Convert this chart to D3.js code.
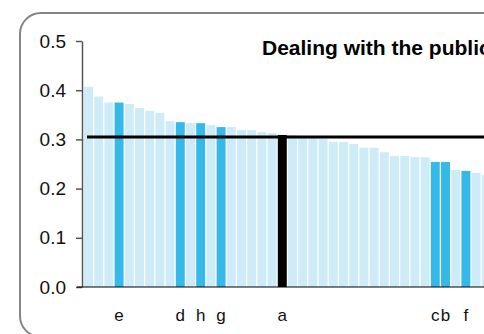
<!DOCTYPE html>
<html>
<head>
<meta charset="utf-8">
<script src="https://cdn.jsdelivr.net/npm/d3@7"></script>
<style>
    body { margin: 0; background: #ffffff; }
    svg { display: block; font-family: "Liberation Sans", Arial, sans-serif; }
</style>
</head>
<body>
<svg width="484" height="334"></svg>
<script>
// =============================
// DATA
// =============================
var values = [0.407, 0.387, 0.375, 0.375, 0.372, 0.364, 0.358, 0.354, 0.337, 0.335,
              0.333, 0.333, 0.329, 0.325, 0.325, 0.319, 0.319, 0.315, 0.313, 0.309,
              0.309, 0.305, 0.304, 0.302, 0.295, 0.295, 0.291, 0.283, 0.283, 0.274,
              0.266, 0.266, 0.264, 0.264, 0.254, 0.254, 0.238, 0.236, 0.232, 0.228];
var names = ["", "", "", "e", "", "", "", "", "", "d",
             "", "h", "", "g", "", "", "", "", "", "a",
             "", "", "", "", "", "", "", "", "", "",
             "", "", "", "", "c", "b", "", "f", "", ""];
var focusName = "a";
var average = 0.305;
var yTicks = [0.0, 0.1, 0.2, 0.3, 0.4, 0.5];
var title = "Dealing with the public";

// ########
// # MAIN #
// ########
var svg = d3.select("svg");

// rounded frame (runs off the right side of the crop)
svg.append("rect")
    .attr("x", 20)
    .attr("y", 13)
    .attr("width", 700)
    .attr("height", 324)
    .attr("rx", 21)
    .attr("fill", "none")
    .attr("stroke", "#858585")
    .attr("stroke-width", 2);

var x = d3.scaleBand()
    .domain(d3.range(values.length))
    .range([84, 84 + 10.2 * (values.length - 0.12)])
    .paddingInner(0.12)
    .paddingOuter(0);

var y = d3.scaleLinear()
    .domain([0, 0.5])
    .range([287, 41]);

// bars
svg.append("g")
    .selectAll("rect")
    .data(values)
    .enter().append("rect")
    .attr("x", function (d, i) { return x(i); })
    .attr("y", function (d) { return y(d); })
    .attr("width", x.bandwidth())
    .attr("height", function (d) { return y(0) - y(d); })
    .attr("fill", function (d, i) {
        if (names[i] === focusName) return "#000000";
        if (names[i] !== "") return "#35b9e9";
        return "#ceecf8";
    });

// average line
svg.append("line")
    .attr("x1", 87)
    .attr("x2", 484)
    .attr("y1", y(average))
    .attr("y2", y(average))
    .attr("stroke", "#000000")
    .attr("stroke-width", 3);

// y axis
var yAxis = svg.append("g")
    .attr("transform", "translate(82,0)")
    .call(d3.axisLeft(y)
        .tickValues(yTicks)
        .tickFormat(d3.format(".1f"))
        .tickSize(6)
        .tickSizeOuter(0)
        .tickPadding(10));

yAxis.select(".domain")
    .attr("stroke", "#555555")
    .attr("stroke-width", 1.5);
yAxis.selectAll(".tick line")
    .attr("stroke", "#555555")
    .attr("stroke-width", 1.5);
yAxis.selectAll(".tick text")
    .attr("font-size", "19px")
    .attr("fill", "#111111")
    .style("font-family", "Liberation Sans, Arial, sans-serif");

// baseline
svg.append("line")
    .attr("x1", 77)
    .attr("x2", 484)
    .attr("y1", y(0))
    .attr("y2", y(0))
    .attr("stroke", "#000000")
    .attr("stroke-width", 1.2);

// category labels
svg.append("g")
    .selectAll("text")
    .data(names)
    .enter().append("text")
    .attr("x", function (d, i) { return x(i) + x.bandwidth() / 2; })
    .attr("y", 321)
    .attr("text-anchor", "middle")
    .attr("font-size", "17px")
    .attr("fill", "#111111")
    .text(function (d) { return d; });

// title
svg.append("text")
    .attr("x", 262)
    .attr("y", 55)
    .attr("font-size", "21px")
    .attr("font-weight", "bold")
    .attr("fill", "#000000")
    .text(title);
</script>
</body>
</html>
